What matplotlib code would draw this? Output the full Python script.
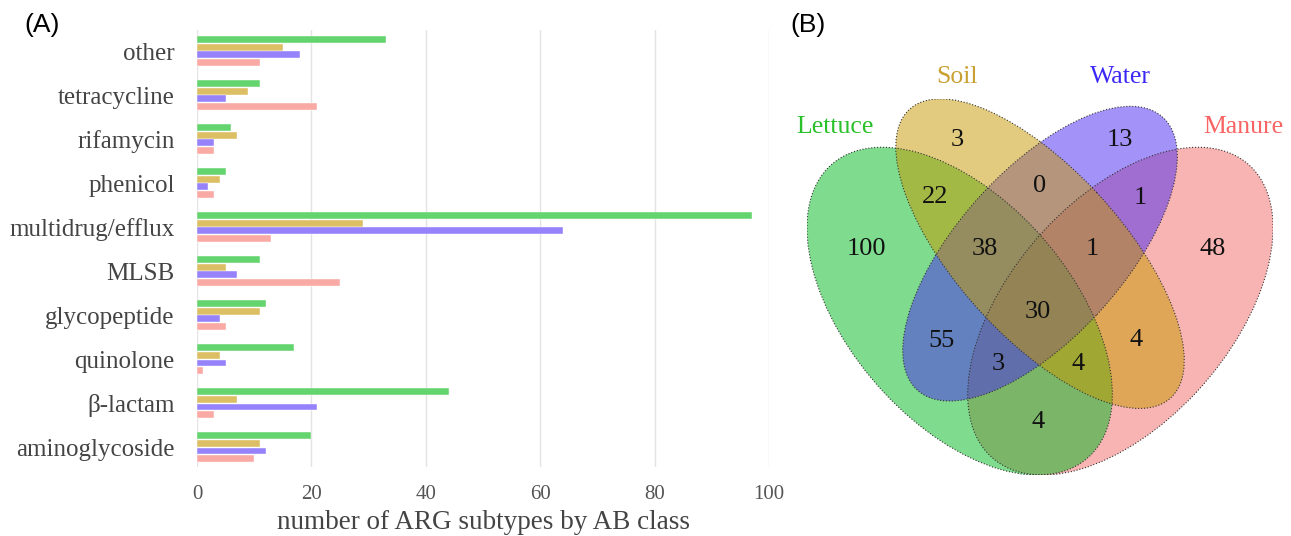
import matplotlib.pyplot as plt
import numpy as np
from matplotlib.patches import Ellipse

# ARG subtypes per antibiotic class, bottom to top
classes = ['aminoglycoside', 'β-lactam', 'quinolone', 'glycopeptide', 'MLSB',
           'multidrug/efflux', 'phenicol', 'rifamycin', 'tetracycline', 'other']
lettuce = [20, 44, 17, 12, 11, 97, 5, 6, 11, 33]
soil = [11, 7, 4, 11, 5, 29, 4, 7, 9, 15]
water = [12, 21, 5, 4, 7, 64, 2, 3, 5, 18]
manure = [10, 3, 1, 5, 25, 13, 3, 3, 21, 11]
xticks = [0, 20, 40, 60, 80, 100]

# shared / unique subtype counts between the four sample types
set_names = ['Lettuce', 'Soil', 'Water', 'Manure']
venn_counts = {
    'L': 100, 'S': 3, 'W': 13, 'M': 48,
    'LS': 22, 'SW': 0, 'WM': 1, 'LW': 55, 'SM': 4, 'LM': 4,
    'LSW': 38, 'SWM': 1, 'LWM': 3, 'LSM': 4,
    'LSWM': 30,
}

bar_colors = ['#64d46e', '#dcbe64', '#9682fa', '#f9aaa5']
serif = ['Liberation Serif', 'DejaVu Serif']
sans = ['Liberation Sans', 'DejaVu Sans']

fig = plt.figure(figsize=(12.91, 5.36), dpi=100)

# ---- (A) grouped horizontal bars ----
ax = fig.add_axes([0.1526, 0.1287, 0.4431, 0.8153])
y = np.arange(len(classes))
step = 0.172
h = 0.158
for i, vals in enumerate([lettuce, soil, water, manure]):
    ax.barh(y + (1.5 - i) * step, vals, height=h, color=bar_colors[i],
            edgecolor='white', linewidth=0.3, zorder=2)

ax.set_xlim(0, 100)
ax.set_ylim(-0.45, 9.48)
ax.set_xticks(xticks)
ax.set_xticklabels([str(t) for t in xticks], family=serif, fontsize=15,
                   color='#555555')
ax.set_yticks(y)
ax.set_yticklabels(classes, family=serif, fontsize=18, color='#444444')
ax.tick_params(axis='y', length=0, pad=16)
ax.tick_params(axis='x', length=0, pad=13)
ax.grid(axis='x', color='#e3e3e3', linewidth=1, zorder=0)
for s in ax.spines.values():
    s.set_visible(False)
ax.set_xlabel('number of ARG subtypes by AB class', family=serif,
              fontsize=19.5, color='#444444', labelpad=4)

fig.text(42 / 1291, 1 - 25 / 536, '(A)', fontsize=19, family=sans,
         ha='center', va='center')
fig.text(808 / 1291, 1 - 25 / 536, '(B)', fontsize=19, family=sans,
         ha='center', va='center')

# ---- (B) four-set Venn diagram ----
vx = fig.add_axes([0.6251, 0.1138, 0.3610, 0.7015])
vx.set_xlim(0.065, 0.935)
vx.set_ylim(0.185, 0.839)
vx.axis('off')

# x, y, full width, full height, angle; drawn Manure, Lettuce, Water, Soil
ellipses = {
    'Manure': (0.65, 0.47, 0.70, 0.40, 45, '#f36b67'),
    'Lettuce': (0.35, 0.47, 0.70, 0.40, 135, '#00b91f'),
    'Water': (0.50, 0.57, 0.66, 0.30, 45, '#4927f1'),
    'Soil': (0.50, 0.57, 0.70, 0.30, 135, '#c79900'),
}
for name, (cx, cy, w, hh, ang, col) in ellipses.items():
    vx.add_patch(Ellipse((cx, cy), w, hh, angle=ang, facecolor=col,
                         alpha=0.5, edgecolor='none'))
for name, (cx, cy, w, hh, ang, col) in ellipses.items():
    vx.add_patch(Ellipse((cx, cy), w, hh, angle=ang, facecolor='none',
                         edgecolor='#333333', linewidth=0.8, linestyle=':'))

count_pos = {
    'L': (0.175, 0.578), 'S': (0.345, 0.768), 'W': (0.649, 0.768),
    'M': (0.823, 0.578), 'LS': (0.304, 0.669), 'SW': (0.500, 0.688),
    'WM': (0.687, 0.667), 'LW': (0.317, 0.418), 'SM': (0.679, 0.420),
    'LM': (0.496, 0.277), 'LSW': (0.397, 0.578), 'SWM': (0.597, 0.578),
    'LWM': (0.422, 0.378), 'LSM': (0.571, 0.378), 'LSWM': (0.496, 0.469),
}
for key, n in venn_counts.items():
    px, py = count_pos[key]
    vx.text(px, py, str(n), family=serif, fontsize=19, ha='center',
            va='center', color='#111111')

name_pos = [(0.117, 0.790), (0.345, 0.877), (0.651, 0.877), (0.879, 0.790)]
name_colors = ['#2ac02a', '#c9a032', '#3c28f5', '#f96464']
for name, (px, py), col in zip(set_names, name_pos, name_colors):
    vx.text(px, py, name, family=serif, fontsize=18.5, ha='center',
            va='center', color=col)

plt.savefig('out.png', dpi=100)
